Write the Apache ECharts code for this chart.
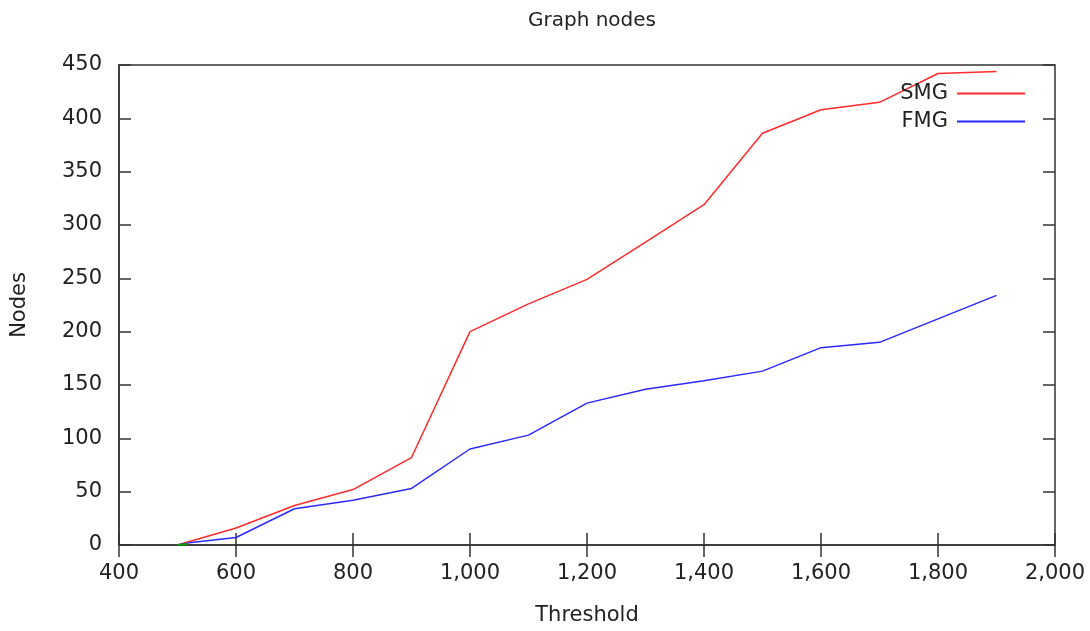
<!DOCTYPE html>
<html>
<head>
<meta charset="utf-8">
<script src="https://cdn.jsdelivr.net/npm/echarts@6/dist/echarts.min.js"></script>
<style>
  html, body { margin: 0; padding: 0; background: #fff; }
  #chart_view { width: 1090px; height: 631px; }
</style>
</head>
<body>
<div id="chart_view"></div>
<script>
// values
var smgX = [500, 600, 700, 800, 900, 1000, 1100, 1200, 1300, 1400, 1500, 1600, 1700, 1800, 1900];
var smgY = [0, 16, 37, 52, 82, 200, 226, 249, 284, 319, 386, 408, 415, 442, 444];
var fmgX = [500, 520, 600, 700, 800, 900, 1000, 1100, 1200, 1300, 1400, 1500, 1600, 1700, 1800, 1900];
var fmgY = [0, 2, 7, 34, 42, 53, 90, 103, 133, 146, 154, 163, 185, 190, 212, 234];
var thirdX = [500, 518];
var thirdY = [0, 1];

function pairs(xs, ys) {
    var out = [];
    for (var i = 0; i < xs.length; i++) out.push([xs[i], ys[i]]);
    return out;
}

var font = 'DejaVu Sans';
var axisColor = '#333';

var myChart = echarts.init(document.getElementById('chart_view'));

var tick = { show: true, inside: true, length: 12, lineStyle: { color: axisColor, width: 1.5 } };

var option = {
    animation: false,
    backgroundColor: '#fff',
    textStyle: { fontFamily: font },
    title: {
        text: 'Graph nodes',
        left: 587,
        textAlign: 'center',
        top: 6,
        textStyle: { fontFamily: font, fontWeight: 'normal', fontSize: 20, color: '#222' }
    },
    legend: {
        orient: 'vertical',
        right: 60,
        top: 78,
        align: 'right',
        itemWidth: 68,
        itemHeight: 2,
        itemGap: 7,
        icon: 'rect',
        data: ['SMG', 'FMG'],
        textStyle: { fontFamily: font, fontSize: 21, color: '#222', padding: [0, 4, 0, 0] }
    },
    grid: { left: 119, right: 35, top: 65, bottom: 85, show: true, borderColor: axisColor, borderWidth: 1.5 },
    xAxis: [{
        type: 'value',
        min: 400, max: 2000, interval: 200,
        name: 'Threshold',
        nameLocation: 'middle',
        nameGap: 60,
        nameTextStyle: { fontFamily: font, fontSize: 21, color: '#222' },
        axisLine: { show: true, lineStyle: { color: axisColor, width: 1.5 } },
        axisTick: tick,
        axisLabel: { margin: 18, fontFamily: font, fontSize: 21, color: '#222' },
        splitLine: { show: false }
    }, {
        type: 'value',
        position: 'top',
        min: 400, max: 2000, interval: 200,
        axisLine: { show: false },
        axisTick: tick,
        axisLabel: { show: false },
        splitLine: { show: false }
    }],
    yAxis: [{
        type: 'value',
        min: 0, max: 450, interval: 50,
        name: 'Nodes',
        nameLocation: 'middle',
        nameGap: 89,
        nameRotate: 90,
        nameTextStyle: { fontFamily: font, fontSize: 21, color: '#222' },
        axisLine: { show: true, lineStyle: { color: axisColor, width: 1.5 } },
        axisTick: tick,
        axisLabel: { margin: 17, fontFamily: font, fontSize: 21, color: '#222' },
        splitLine: { show: false }
    }, {
        type: 'value',
        position: 'right',
        min: 0, max: 450, interval: 50,
        axisLine: { show: false },
        axisTick: tick,
        axisLabel: { show: false },
        splitLine: { show: false }
    }],
    series: [{
        name: 'SMG',
        type: 'line',
        data: pairs(smgX, smgY),
        showSymbol: false,
        color: '#ff2a2a',
        lineStyle: { width: 1.5, color: '#ff2a2a' }
    }, {
        name: 'FMG',
        type: 'line',
        data: pairs(fmgX, fmgY),
        showSymbol: false,
        color: '#2a2aff',
        lineStyle: { width: 1.5, color: '#2a2aff' }
    }, {
        name: 'third',
        type: 'line',
        data: pairs(thirdX, thirdY),
        showSymbol: false,
        color: '#00a000',
        lineStyle: { width: 2, color: '#00a000' }
    }]
};

myChart.setOption(option);
</script>
</body>
</html>
